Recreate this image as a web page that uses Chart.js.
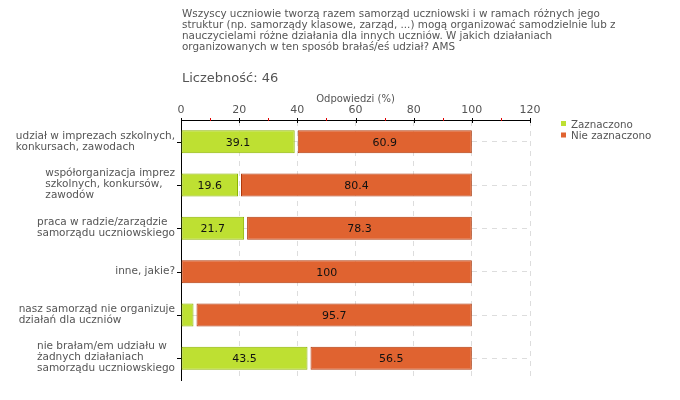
<!DOCTYPE html>
<html><head><meta charset="utf-8">
<script src="https://cdn.jsdelivr.net/npm/chart.js@4"></script>
<style>html,body{margin:0;padding:0;background:#fff}</style>
</head><body>
<div style="position:relative;width:680px;height:400px"><canvas id="c" width="680" height="400"></canvas></div>
<script>
const categories = [
  ["udział w imprezach szkolnych,", "konkursach, zawodach"],
  ["współorganizacja imprez", "szkolnych, konkursów,", "zawodów"],
  ["praca w radzie/zarządzie", "samorządu uczniowskiego"],
  ["inne, jakie?"],
  ["nasz samorząd nie organizuje", "działań dla uczniów"],
  ["nie brałam/em udziału w", "żadnych działaniach", "samorządu uczniowskiego"]
];
const zaznaczono = [39.1, 19.6, 21.7, 0, 4.3, 43.5];
const nieZaznaczono = [60.9, 80.4, 78.3, 100, 95.7, 56.5];
const xTickValues = [0, 20, 40, 60, 80, 100, 120];
const seriesNames = ["Zaznaczono", "Nie zaznaczono"];
const titleLines = [
  "Wszyscy uczniowie tworzą razem samorząd uczniowski i w ramach różnych jego",
  "struktur (np. samorządy klasowe, zarząd, ...) mogą organizować samodzielnie lub z",
  "nauczycielami różne działania dla innych uczniów. W jakich działaniach",
  "organizowanych w ten sposób brałaś/eś udział? AMS"
];
const countLabel = "Liczebność: 46";
const axisTitle = "Odpowiedzi (%)";

const FONT = '"DejaVu Sans", Verdana, sans-serif';
const TEXT = '#555';
const colors = {
  fill: ['#bee032', '#e06330'],
  border: ['#8cb400', '#b03a0c']
};

const gapPlugin = {
  id: 'gap',
  afterDatasetsUpdate(chart) {
    const meta = chart.getDatasetMeta(1);
    meta.data.forEach((el, i) => { if (zaznaczono[i] > 0) el.base += 3; });
  }
};

const decorPlugin = {
  id: 'decor',
  afterDatasetsDraw(chart) {
    const ctx = chart.ctx;
    ctx.save();
    ctx.fillStyle = '#111';
    ctx.font = '11px ' + FONT;
    ctx.textAlign = 'center';
    ctx.textBaseline = 'middle';
    chart.data.datasets.forEach((ds, di) => {
      chart.getDatasetMeta(di).data.forEach((el, i) => {
        const v = ds.data[i];
        const l = Math.min(el.x, el.base), r = Math.max(el.x, el.base);
        if (v > 0 && r - l > 26) ctx.fillText(String(v), (l + r) / 2, el.y + 1);
      });
    });
    ctx.restore();
  },
  afterDraw(chart) {
    const ctx = chart.ctx;
    const xs = chart.scales.x, ys = chart.scales.y;
    const area = chart.chartArea;
    ctx.save();
    // title
    ctx.fillStyle = TEXT;
    ctx.textAlign = 'left';
    ctx.textBaseline = 'alphabetic';
    ctx.font = '10.4px ' + FONT;
    titleLines.forEach((t, i) => ctx.fillText(t, 182, 17 + i * 10.9));
    ctx.font = '13px ' + FONT;
    ctx.fillText(countLabel, 182, 82);
    // axis title
    ctx.font = '10px ' + FONT;
    ctx.textAlign = 'center';
    ctx.fillText(axisTitle, (area.left + area.right) / 2, 102);
    // x ticks
    const top = Math.round(area.top);
    for (let v = 0; v <= 120; v += 10) {
      const px = Math.round(xs.getPixelForValue(v)) + 0.5;
      ctx.beginPath();
      if (v % 20 === 0) {
        ctx.strokeStyle = '#000';
        ctx.moveTo(px, top - 2); ctx.lineTo(px, top + 3);
      } else {
        ctx.strokeStyle = '#e00000';
        ctx.moveTo(px, top - 2); ctx.lineTo(px, top + 1);
      }
      ctx.lineWidth = 1;
      ctx.stroke();
    }
    // y ticks and labels
    ctx.font = '10.5px ' + FONT;
    ctx.textAlign = 'left';
    ctx.textBaseline = 'middle';
    categories.forEach((lines, i) => {
      const py = Math.round(ys.getPixelForValue(i)) + 0.5;
      ctx.strokeStyle = '#000';
      ctx.beginPath();
      ctx.moveTo(area.left - 4, py); ctx.lineTo(area.left, py);
      ctx.stroke();
      const w = Math.max(...lines.map(s => ctx.measureText(s).width));
      const x0 = 175 - w;
      const lh = 11;
      const start = py - 1 - (lines.length - 1) * lh / 2;
      ctx.fillStyle = TEXT;
      lines.forEach((s, k) => ctx.fillText(s, x0, start + k * lh));
    });
    // legend
    ctx.font = '10.3px ' + FONT;
    ctx.textBaseline = 'alphabetic';
    seriesNames.forEach((n, i) => {
      const y = 121 + i * 11.5;
      ctx.fillStyle = colors.fill[i];
      ctx.fillRect(561, y, 5, 5);
      ctx.fillStyle = TEXT;
      ctx.fillText(n, 571, y + 6.5);
    });
    ctx.restore();
  }
};

new Chart(document.getElementById('c'), {
  type: 'bar',
  data: {
    labels: categories.map(c => c.join(' ')),
    datasets: [0, 1].map(k => ({
      label: seriesNames[k],
      data: k === 0 ? zaznaczono : nieZaznaczono,
      backgroundColor: colors.fill[k],
      borderColor: colors.border[k],
      borderWidth: 1,
      borderSkipped: false,
      barPercentage: 1,
      categoryPercentage: 0.53
    }))
  },
  options: {
    indexAxis: 'y',
    responsive: false,
    animation: false,
    layout: { padding: { left: 0, top: 0, right: 150, bottom: 20 } },
    plugins: { legend: { display: false }, tooltip: { enabled: false }, title: { display: false } },
    scales: {
      x: {
        position: 'top', stacked: true, min: 0, max: 120,
        afterBuildTicks(s) { s.ticks = xTickValues.map(v => ({ value: v })); },
        afterFit(s) { s.height = 120; },
        ticks: { color: TEXT, font: { size: 11, family: FONT }, padding: 3 },
        grid: { color: '#dddddd', drawTicks: false, lineWidth: 1 },
        border: { display: true, color: '#000', width: 1, dash: [5, 5] }
      },
      y: {
        stacked: true,
        afterFit(s) { s.width = 181; },
        ticks: { display: false },
        grid: { color: '#dddddd', drawTicks: false, offset: false, lineWidth: 1 },
        border: { display: true, color: '#000', width: 1, dash: [5, 5] }
      }
    }
  },
  plugins: [gapPlugin, decorPlugin]
});
</script>
</body></html>
